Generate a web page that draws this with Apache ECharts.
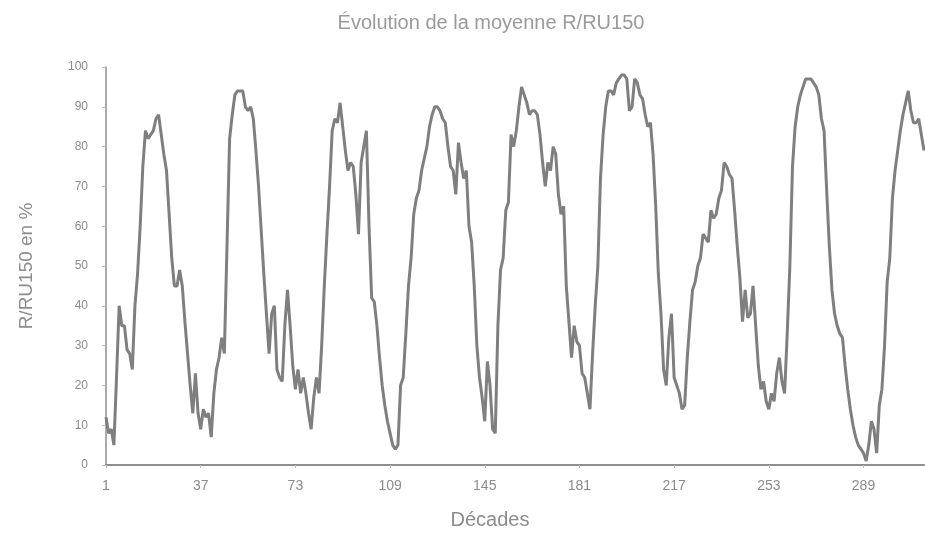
<!DOCTYPE html>
<html>
<head>
<meta charset="utf-8">
<script src="https://cdn.jsdelivr.net/npm/echarts@6/dist/echarts.min.js"></script>
<style>html,body{margin:0;padding:0;background:#fff;}#c{width:925px;height:535px;}</style>
</head>
<body>
<div id="c"></div>
<script>
const titleText = "Évolution de la moyenne R/RU150";
const xName = "Décades";
const yName = "R/RU150 en %";

const values = [
12,8,9,5,22,40,35,35,29,28,24,40,48,60,75,84,82,83,84,87,
88,83,78,74,63,52,45,45,49,45,36,28,20,13,23,13,9,14,12,13,
7,18,24,27,32,28,55,82,88,93,94,94,94,90,89,90,87,79,70,59,
48,38,28,38,40,24,22,21,35,44,35,25,19,24,18,22,18,13,9,17,
22,18,30,45,58,70,84,87,86,91,85,79,74,76,75,68,58,76,80,84,
60,42,41,35,27,20,15,11,8,5,4,5,20,22,33,45,52,63,67,69,
74,77,80,85,88,90,90,89,87,86,80,75,74,68,81,76,72,74,60,56,
45,30,22,17,11,26,20,9,8,35,49,52,64,66,83,80,84,90,95,93,
91,88,89,89,88,83,76,70,76,74,80,78,68,63,65,45,36,27,35,31,
30,23,22,18,14,28,40,50,72,83,90,94,94,93,96,97,98,98,97,89,
90,97,96,93,92,88,85,86,78,65,48,38,24,20,32,38,22,20,18,14,
15,27,36,44,46,50,52,58,57,56,64,62,63,67,69,76,75,73,72,64,
55,47,36,44,37,38,45,35,25,19,21,16,14,18,16,23,27,21,18,33,
50,75,85,90,93,95,97,97,97,96,95,93,87,84,69,55,44,38,35,33,
32,25,19,14,10,7,5,4,3,1,5,11,9,3,15,19,30,46,52,67,
74,79,84,88,91,94,89,86,86,87,83,79
];
const categories = values.map((v, i) => String(i + 1));

const chart = echarts.init(document.getElementById('c'), null, {renderer: 'canvas'});
const txt = '#8c8c8c';
const ff = 'Liberation Sans, Arial, sans-serif';
chart.setOption({
  backgroundColor: '#ffffff',
  animation: false,
  textStyle: {fontFamily: ff},
  title: {
    text: titleText,
    left: 486, top: 8,
    textAlign: 'center',
    textStyle: {color: '#9a9a9a', fontSize: 20, fontWeight: 'normal', fontFamily: ff}
  },
  grid: {left: 106, right: 1, top: 67, bottom: 64, containLabel: false},
  xAxis: {
    type: 'category',
    data: categories,
    boundaryGap: false,
    name: xName,
    nameLocation: 'middle',
    nameGap: 45,
    nameTextStyle: {color: txt, fontSize: 20, padding: [0, 50, 0, 0]},
    axisLine: {lineStyle: {color: '#8f8f8f', width: 2}},
    axisTick: {show: true, interval: 35, length: 3, lineStyle: {color: '#bbb'}},
    axisLabel: {interval: 35, color: txt, fontSize: 14, margin: 14},
    splitLine: {show: false}
  },
  yAxis: {
    type: 'value',
    min: 0, max: 100, interval: 10,
    name: yName,
    nameLocation: 'middle',
    nameGap: 70,
    nameTextStyle: {color: txt, fontSize: 19},
    axisLine: {show: true, lineStyle: {color: '#8f8f8f', width: 1.5}},
    axisTick: {show: true, length: 4, lineStyle: {color: '#bbb'}},
    axisLabel: {color: txt, fontSize: 12, margin: 18},
    splitLine: {show: false}
  },
  series: [{
    type: 'line',
    data: values,
    symbol: 'none',
    lineStyle: {color: '#7f7f7f', width: 3},
    itemStyle: {color: '#7f7f7f'}
  }]
});
</script>
</body>
</html>
